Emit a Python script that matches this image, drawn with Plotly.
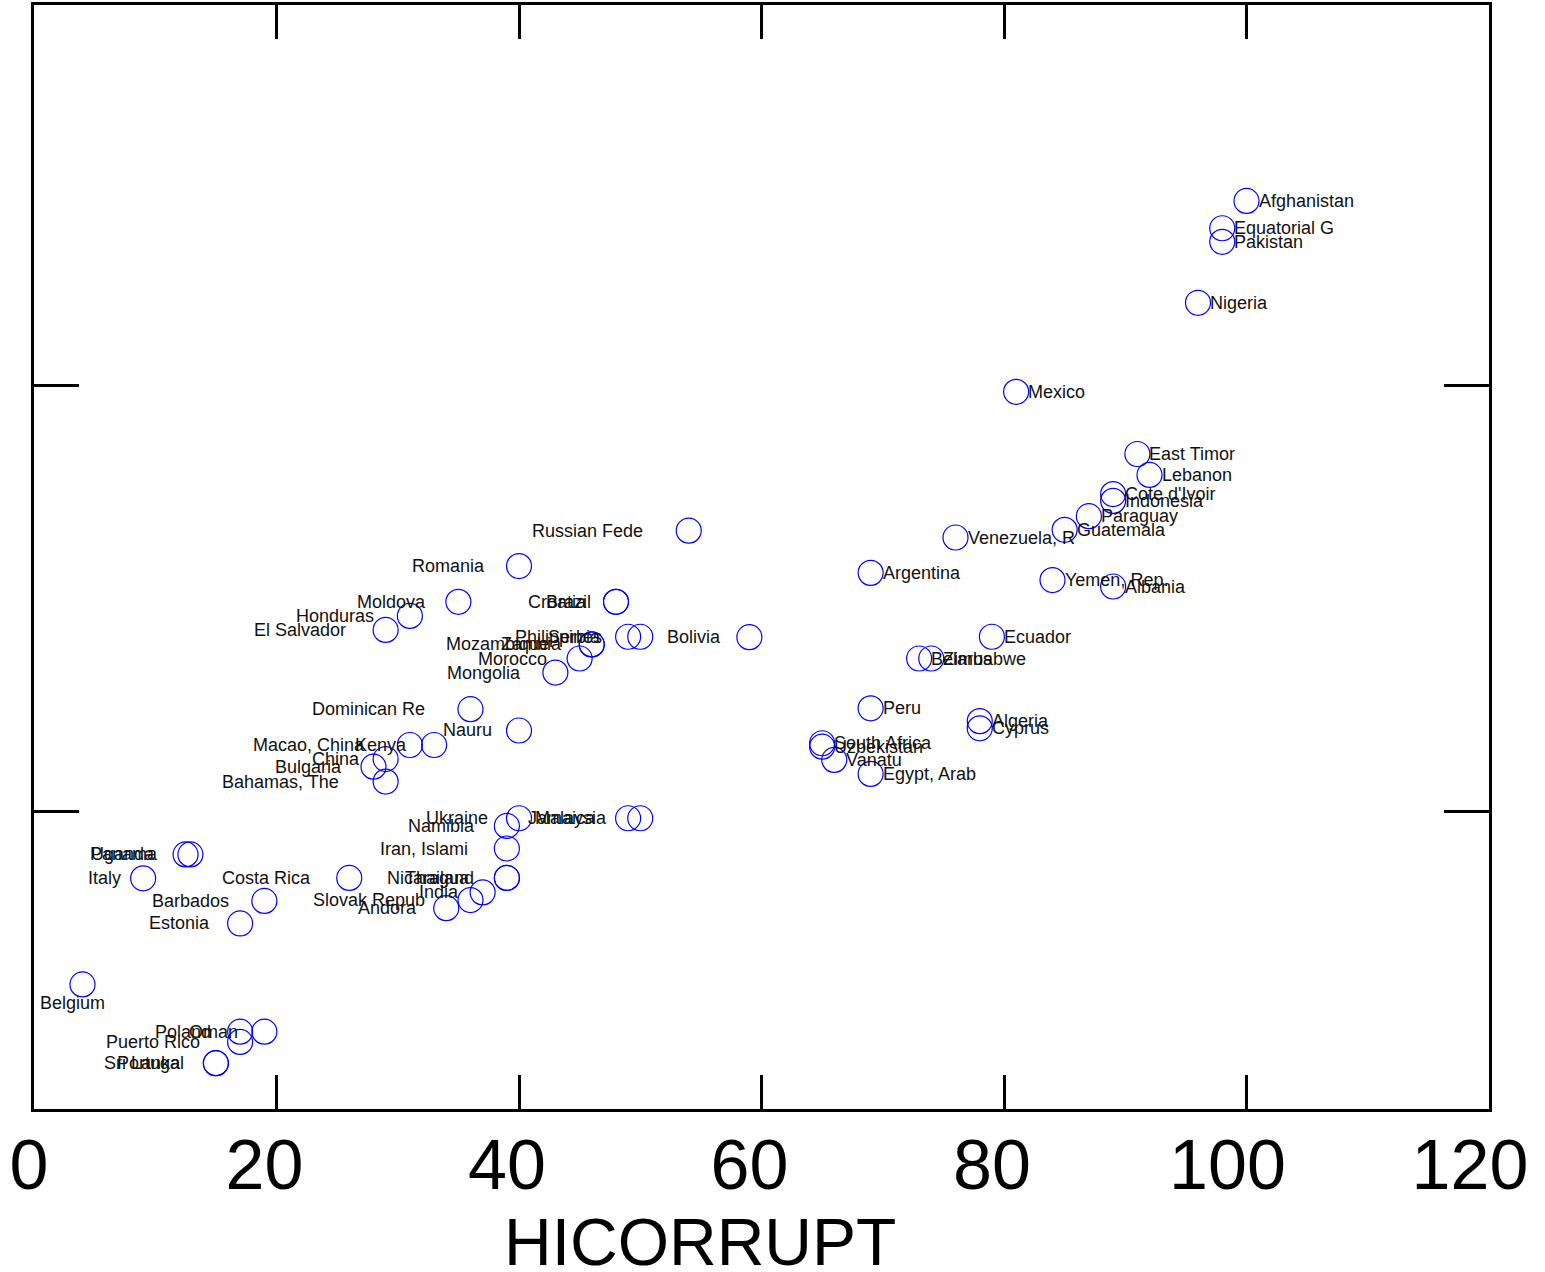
import plotly.graph_objects as go

# ---------------- data ----------------
countries = [
    "Afghanistan", "Equatorial G", "Pakistan", "Nigeria", "Mexico", "East Timor",
    "Lebanon", "Cote d'Ivoir", "Indonesia", "Paraguay", "Guatemala", "Venezuela, R",
    "Argentina", "Yemen, Rep.", "Albania", "Ecuador", "Belarus", "Zimbabwe", "Peru",
    "Algeria", "Cyprus", "South Africa", "Uzbekistan", "Vanatu", "Egypt, Arab",
    "Bolivia", "Russian Fede", "Croatia", "Brazil", "Philippines", "Serbia",
    "Mozambique", "Zambia", "Morocco", "Mongolia", "Romania", "Moldova", "Honduras",
    "El Salvador", "Dominican Re", "Nauru", "Macao, China", "Kenya", "China",
    "Bulgaria", "Bahamas, The", "Ukraine", "Namibia", "Jamaica", "Malaysia",
    "Iran, Islami", "Nicaragua", "Thailand", "India", "Slovak Repub", "Andora",
    "Costa Rica", "Uganda", "Panama", "Italy", "Barbados", "Estonia", "Poland",
    "Oman", "Puerto Rico", "Sri Lanka", "Portugal", "Belgium",
]
hicorrupt = [
    100, 98, 98, 96, 81, 91,
    92, 89, 89, 87, 85, 76,
    69, 84, 89, 79, 73, 74, 69,
    78, 78, 65, 65, 66, 69,
    59, 54, 48, 48, 50, 49,
    46, 46, 45, 43, 40, 35, 31,
    29, 36, 40, 31, 33, 29,
    28, 29, 40, 39, 49, 50,
    39, 39, 39, 37, 36, 34,
    26, 12.5, 12.9, 9, 19, 17, 17,
    19, 17, 15, 15, 4,
]
yvar = [
    2.432, 2.368, 2.336, 2.193, 1.984, 1.838,
    1.789, 1.744, 1.728, 1.692, 1.660, 1.642,
    1.559, 1.542, 1.527, 1.409, 1.358, 1.358, 1.241,
    1.211, 1.194, 1.159, 1.151, 1.120, 1.087,
    1.408, 1.658, 1.491, 1.491, 1.409, 1.409,
    1.391, 1.391, 1.358, 1.325, 1.575, 1.491, 1.458,
    1.425, 1.239, 1.189, 1.155, 1.155, 1.122,
    1.104, 1.069, 0.983, 0.965, 0.983, 0.983,
    0.912, 0.843, 0.843, 0.809, 0.791, 0.772,
    0.843, 0.898, 0.898, 0.842, 0.789, 0.736, 0.482,
    0.482, 0.458, 0.408, 0.408, 0.593,
]
x_ticks = [0, 20, 40, 60, 80, 100, 120]
x_tick_labels = ["0", "20", "40", "60", "80", "100", "120"]
y_ticks = [1, 2]
x_title = "HICORRUPT"

# ---------------- styling helpers ----------------
LABEL_SIZE = 18
FONT = "Arial, Liberation Sans, Helvetica, sans-serif"
labels_below = {"Belgium"}
RIGHT_FROM = 60  # points right of this get labels on their right
THIN = "\u2009"

HELV = {' ': 278, ',': 278, '.': 278, "'": 191, '-': 333,
        'A': 667, 'B': 667, 'C': 722, 'D': 722, 'E': 667, 'F': 611, 'G': 778,
        'H': 722, 'I': 278, 'J': 500, 'K': 667, 'L': 556, 'M': 833, 'N': 722,
        'O': 778, 'P': 667, 'Q': 778, 'R': 722, 'S': 667, 'T': 611, 'U': 722,
        'V': 667, 'W': 944, 'X': 667, 'Y': 667, 'Z': 611,
        'a': 556, 'b': 556, 'c': 500, 'd': 556, 'e': 556, 'f': 278, 'g': 556,
        'h': 556, 'i': 222, 'j': 222, 'k': 500, 'l': 222, 'm': 833, 'n': 556,
        'o': 556, 'p': 556, 'q': 556, 'r': 333, 's': 500, 't': 278, 'u': 556,
        'v': 500, 'w': 722, 'x': 500, 'y': 500, 'z': 500}


def text_width(s, size):
    return sum(HELV.get(c, 556) for c in s) * size / 1000.0


def pad_tick(t):
    # the original renderer shifts wider labels further left of their tick
    if len(t) == 1:
        return THIN + t
    if len(t) >= 3:
        return t + THIN
    return t


fig = go.Figure()
fig.add_trace(go.Scatter(
    x=hicorrupt, y=yvar, mode="markers", text=countries, hoverinfo="text+x+y",
    marker=dict(symbol="circle-open", size=25, color="#0000ff",
                line=dict(width=1.2, color="#0000ff")),
    showlegend=False,
))

annotations = []
for name, xv, yv in zip(countries, hicorrupt, yvar):
    w = text_width(name, LABEL_SIZE)
    if name in labels_below:
        anchor, xs, ys = "center", -0.15 * w, -19
    elif xv > RIGHT_FROM:
        anchor, xs, ys = "left", 12, 0
    else:
        anchor, xs, ys = "right", -(12 + 0.3 * w), 0
    annotations.append(dict(
        x=xv, y=yv, xref="x", yref="y", text=name, showarrow=False,
        xanchor=anchor, yanchor="middle", xshift=xs, yshift=ys,
        borderpad=0, borderwidth=0,
        font=dict(family=FONT, size=LABEL_SIZE, color="#111111"),
    ))

# axis title, offset like the original renderer
annotations.append(dict(
    x=0.5, y=0, xref="paper", yref="paper", text=x_title, showarrow=False,
    xanchor="center", yanchor="middle", xshift=-62, yshift=-133,
    borderpad=0, borderwidth=0,
    font=dict(family=FONT, size=66, color="#000000"),
))

axis_common = dict(
    showgrid=False, zeroline=False, showline=True, linewidth=3,
    linecolor="#000000", mirror="ticks", ticks="inside", tickwidth=3,
    tickcolor="#000000", automargin=False,
)

fig.update_layout(
    width=1545, height=1272,
    margin=dict(l=34, r=56, t=5, b=163, pad=0, autoexpand=False),
    plot_bgcolor="#ffffff", paper_bgcolor="#ffffff",
    annotations=annotations,
    xaxis=dict(range=[0, 120], tickvals=x_ticks,
               ticktext=[pad_tick(t) for t in x_tick_labels], ticklen=34,
               tickfont=dict(family=FONT, size=70, color="#000000"),
               ticklabeloverflow="allow",
               ticklabelshift=-12, ticklabelstandoff=-7, **axis_common),
    yaxis=dict(range=[0.3005, 2.892], tickvals=y_ticks, ticklen=45,
               showticklabels=False, **axis_common),
    font=dict(family=FONT),
)

fig.write_html("out.html", config={"displayModeBar": False},
               post_script="document.body.style.margin='0px';document.body.style.overflow='hidden';")
